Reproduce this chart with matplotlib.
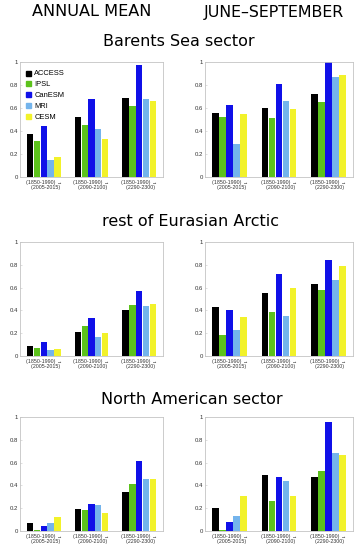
import matplotlib
matplotlib.use("Agg")
import matplotlib.pyplot as plt
from matplotlib.lines import Line2D
import numpy as np

models = ["ACCESS", "IPSL", "CanESM", "MRI", "CESM"]
colors = ["#000000", "#5cc21c", "#1010e8", "#74b4ec", "#f2f22a"]
periods = ["(1850-1990) →\n  (2005-2015)",
           "(1850-1990) →\n  (2090-2100)",
           "(1850-1990) →\n  (2290-2300)"]
yticks = [0, 0.2, 0.4, 0.6, 0.8, 1]
ytick_labels = ["0", "0.2", "0.4", "0.6", "0.8", "1"]

col_titles = ["ANNUAL MEAN", "JUNE–SEPTEMBER"]
row_titles = ["Barents Sea sector", "rest of Eurasian Arctic", "North American sector"]

# values[model][period]
barents_annual = [[0.37, 0.52, 0.69], [0.31, 0.45, 0.62], [0.44, 0.68, 0.97],
                  [0.15, 0.42, 0.68], [0.17, 0.33, 0.66]]
barents_jjas = [[0.56, 0.60, 0.72], [0.52, 0.51, 0.65], [0.63, 0.81, 1.00],
                [0.29, 0.66, 0.87], [0.55, 0.59, 0.89]]
eurasian_annual = [[0.09, 0.21, 0.40], [0.07, 0.26, 0.45], [0.12, 0.33, 0.57],
                   [0.05, 0.17, 0.44], [0.06, 0.20, 0.46]]
eurasian_jjas = [[0.43, 0.55, 0.63], [0.18, 0.39, 0.58], [0.40, 0.72, 0.84],
                 [0.23, 0.35, 0.67], [0.34, 0.60, 0.79]]
namerican_annual = [[0.07, 0.19, 0.34], [0.01, 0.18, 0.41], [0.04, 0.24, 0.61],
                    [0.07, 0.23, 0.46], [0.12, 0.16, 0.46]]
namerican_jjas = [[0.20, 0.49, 0.47], [0.01, 0.26, 0.53], [0.08, 0.47, 0.96],
                  [0.13, 0.44, 0.68], [0.31, 0.31, 0.67]]

panels = [[barents_annual, barents_jjas],
          [eurasian_annual, eurasian_jjas],
          [namerican_annual, namerican_jjas]]

W, H = 354, 550
fig = plt.figure(figsize=(W / 100, H / 100), dpi=100)
fig.patch.set_facecolor("white")

title_font = ["DejaVu Sans"]
tick_font = ["Liberation Sans", "DejaVu Sans"]

def px_rect(x0, x1, ytop, ybot):
    return [x0 / W, 1 - ybot / H, (x1 - x0) / W, (ybot - ytop) / H]

col_x = [(20, 163), (205, 353)]
row_y = [(62, 177), (242, 356), (417, 531)]

frame_col = "#c4c4c4"
group_x = np.arange(1, 4)
bw = 0.142

for r in range(3):
    for c in range(2):
        ax = fig.add_axes(px_rect(col_x[c][0], col_x[c][1], row_y[r][0], row_y[r][1]))
        data = panels[r][c]
        for i, m in enumerate(models):
            ax.bar(group_x + (i - 2) * bw, data[i], width=bw * 0.93,
                   color=colors[i], label=m, linewidth=0)
        ax.set_xlim(0.5, 3.5)
        ax.set_ylim(0, 1)
        ax.set_yticks(yticks)
        ax.set_yticklabels(ytick_labels, family=tick_font, fontsize=4.3)
        ax.set_xticks(group_x)
        ax.set_xticklabels(periods, family=tick_font, fontsize=3.8,
                           multialignment="center", linespacing=1.0)
        for s in ax.spines.values():
            s.set_color(frame_col)
            s.set_linewidth(0.6)
        ax.tick_params(axis="both", length=1.5, width=0.4, color=frame_col,
                       direction="in", pad=1.5, labelcolor="#333333")
        ax.tick_params(axis="x", length=0, pad=2)
        if r == 0 and c == 0:
            handles = [Line2D([], [], marker="s", linestyle="none", color=colors[i],
                              markersize=3.6) for i in range(5)]
            ax.legend(handles, models, loc="upper left", frameon=False,
                      prop={"family": tick_font, "size": 5.4},
                      handletextpad=0.3, labelspacing=0.48, handlelength=1.0,
                      borderaxespad=0.2, bbox_to_anchor=(0.0, 0.97))

fig.text(92 / W, 1 - 12 / H, col_titles[0], ha="center", va="center",
         family=title_font, fontsize=11.6)
fig.text(274 / W, 1 - 12 / H, col_titles[1], ha="center", va="center",
         family=title_font, fontsize=11.4)
row_title_pos = [(179, 41), (190, 221), (192, 399)]
for t, (x, y) in zip(row_titles, row_title_pos):
    fig.text(x / W, 1 - y / H, t, ha="center", va="center",
             family=title_font, fontsize=11.5)

fig.savefig("out.png", dpi=100, facecolor="white")
